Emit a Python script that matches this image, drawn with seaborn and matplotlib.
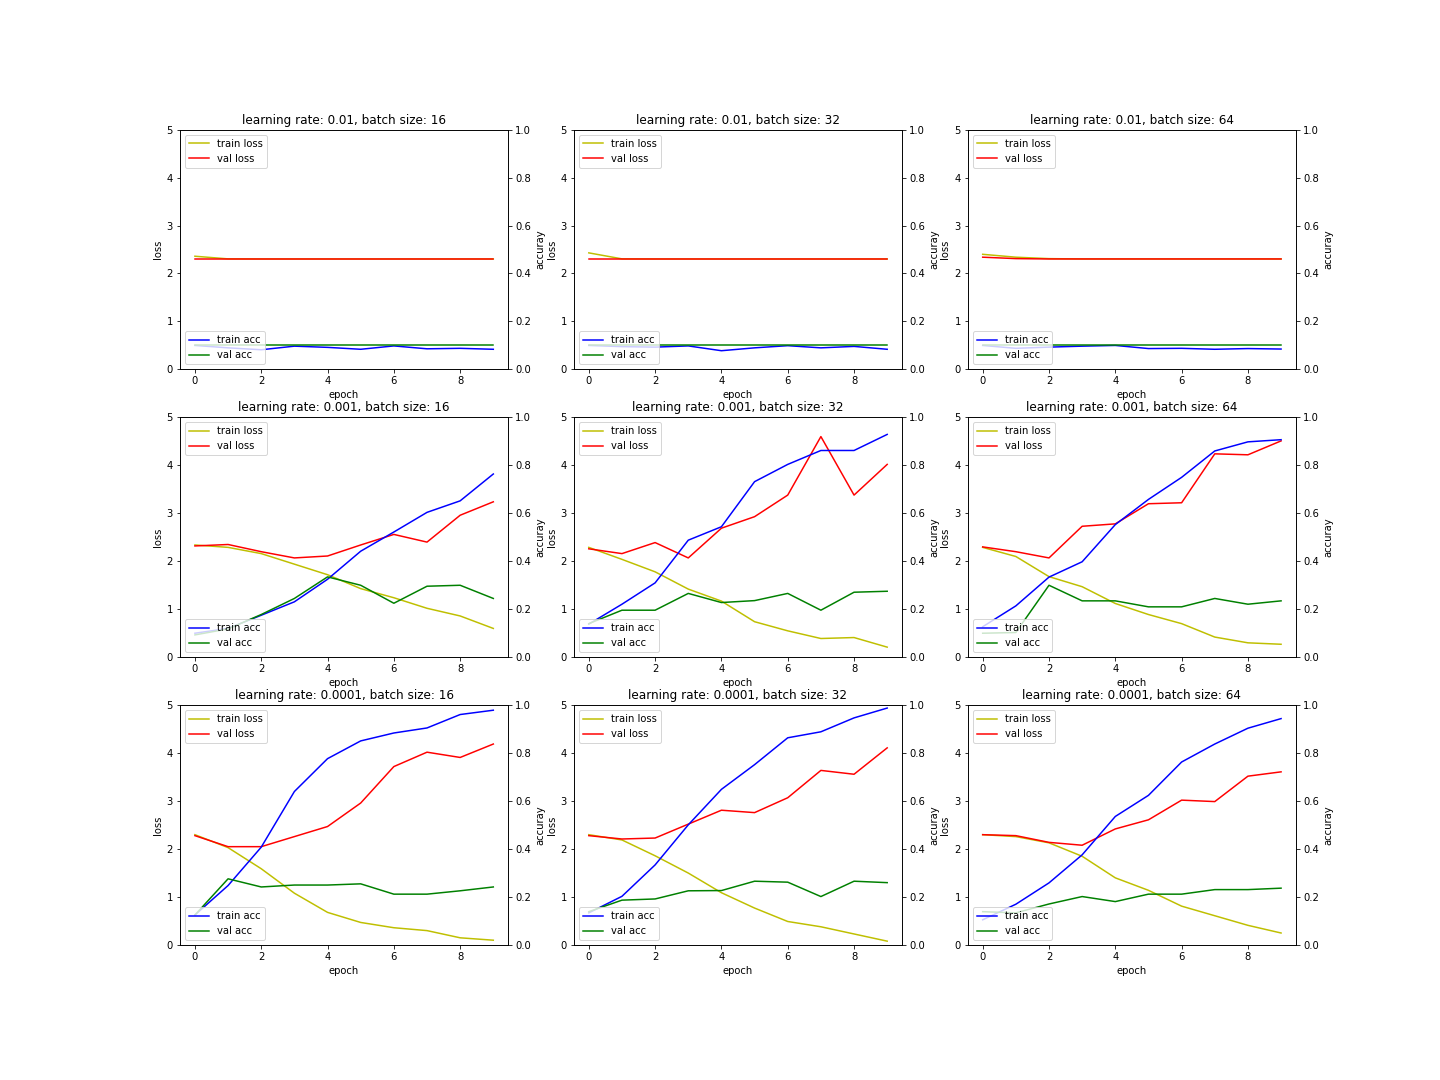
import numpy as np
import matplotlib
matplotlib.use("Agg")
import matplotlib.pyplot as plt
import seaborn as sns

learning_rates = ["0.01", "0.001", "0.0001"]
batch_sizes = [16, 32, 64]
epochs = list(range(10))

# lr 0.01
train_loss_01_16 = [2.36, 2.305, 2.303, 2.303, 2.303, 2.303, 2.303, 2.303, 2.303, 2.303]
val_loss_01_16 = [2.303, 2.303, 2.303, 2.303, 2.303, 2.303, 2.303, 2.303, 2.303, 2.303]
train_acc_01_16 = [0.100, 0.090, 0.082, 0.097, 0.092, 0.084, 0.098, 0.086, 0.088, 0.084]
val_acc_01_16 = [0.100] * 10

train_loss_01_32 = [2.43, 2.305, 2.303, 2.303, 2.303, 2.303, 2.303, 2.303, 2.303, 2.303]
val_loss_01_32 = [2.303, 2.303, 2.303, 2.303, 2.303, 2.303, 2.303, 2.303, 2.303, 2.303]
train_acc_01_32 = [0.100, 0.095, 0.093, 0.098, 0.078, 0.090, 0.099, 0.090, 0.096, 0.084]
val_acc_01_32 = [0.100] * 10

train_loss_01_64 = [2.40, 2.34, 2.31, 2.303, 2.303, 2.303, 2.303, 2.303, 2.303, 2.303]
val_loss_01_64 = [2.34, 2.31, 2.303, 2.303, 2.303, 2.303, 2.303, 2.303, 2.303, 2.303]
train_acc_01_64 = [0.100, 0.088, 0.093, 0.097, 0.100, 0.087, 0.088, 0.084, 0.087, 0.085]
val_acc_01_64 = [0.100] * 10

# lr 0.001
train_loss_001_16 = [2.34, 2.29, 2.16, 1.94, 1.72, 1.43, 1.24, 1.02, 0.86, 0.60]
val_loss_001_16 = [2.32, 2.35, 2.20, 2.07, 2.11, 2.34, 2.56, 2.40, 2.96, 3.24]
train_acc_001_16 = [0.100, 0.120, 0.175, 0.231, 0.325, 0.442, 0.522, 0.604, 0.652, 0.764]
val_acc_001_16 = [0.093, 0.118, 0.178, 0.245, 0.335, 0.300, 0.225, 0.296, 0.300, 0.245]

train_loss_001_32 = [2.29, 2.04, 1.78, 1.42, 1.17, 0.74, 0.55, 0.39, 0.41, 0.21]
val_loss_001_32 = [2.26, 2.16, 2.39, 2.07, 2.69, 2.93, 3.38, 4.60, 3.38, 4.02]
train_acc_001_32 = [0.138, 0.221, 0.310, 0.488, 0.544, 0.732, 0.804, 0.862, 0.862, 0.929]
val_acc_001_32 = [0.140, 0.196, 0.196, 0.266, 0.228, 0.236, 0.266, 0.196, 0.271, 0.275]

train_loss_001_64 = [2.29, 2.10, 1.68, 1.47, 1.12, 0.89, 0.70, 0.42, 0.30, 0.27]
val_loss_001_64 = [2.30, 2.20, 2.07, 2.73, 2.78, 3.20, 3.22, 4.24, 4.22, 4.51]
train_acc_001_64 = [0.127, 0.214, 0.334, 0.398, 0.553, 0.658, 0.750, 0.860, 0.898, 0.907]
val_acc_001_64 = [0.100, 0.103, 0.300, 0.235, 0.235, 0.210, 0.210, 0.245, 0.221, 0.235]

# lr 0.0001
train_loss_0001_16 = [2.30, 2.03, 1.59, 1.08, 0.68, 0.47, 0.36, 0.30, 0.15, 0.10]
val_loss_0001_16 = [2.28, 2.05, 2.05, 2.26, 2.47, 2.96, 3.72, 4.02, 3.91, 4.19]
train_acc_0001_16 = [0.125, 0.248, 0.408, 0.640, 0.777, 0.851, 0.884, 0.905, 0.961, 0.979]
val_acc_0001_16 = [0.125, 0.276, 0.242, 0.250, 0.250, 0.255, 0.212, 0.212, 0.226, 0.242]

train_loss_0001_32 = [2.30, 2.19, 1.86, 1.50, 1.09, 0.77, 0.49, 0.38, 0.23, 0.08]
val_loss_0001_32 = [2.28, 2.21, 2.23, 2.52, 2.81, 2.76, 3.07, 3.64, 3.56, 4.11]
train_acc_0001_32 = [0.134, 0.203, 0.334, 0.501, 0.649, 0.752, 0.864, 0.889, 0.947, 0.988]
val_acc_0001_32 = [0.139, 0.187, 0.192, 0.226, 0.227, 0.266, 0.262, 0.202, 0.266, 0.260]

train_loss_0001_64 = [2.30, 2.26, 2.13, 1.85, 1.40, 1.14, 0.81, 0.61, 0.41, 0.25]
val_loss_0001_64 = [2.30, 2.28, 2.14, 2.08, 2.42, 2.61, 3.02, 2.99, 3.52, 3.61]
train_acc_0001_64 = [0.105, 0.170, 0.259, 0.376, 0.536, 0.624, 0.763, 0.838, 0.904, 0.944]
val_acc_0001_64 = [0.139, 0.134, 0.171, 0.202, 0.181, 0.212, 0.212, 0.231, 0.231, 0.237]

panels = [
    [(train_loss_01_16, val_loss_01_16, train_acc_01_16, val_acc_01_16),
     (train_loss_01_32, val_loss_01_32, train_acc_01_32, val_acc_01_32),
     (train_loss_01_64, val_loss_01_64, train_acc_01_64, val_acc_01_64)],
    [(train_loss_001_16, val_loss_001_16, train_acc_001_16, val_acc_001_16),
     (train_loss_001_32, val_loss_001_32, train_acc_001_32, val_acc_001_32),
     (train_loss_001_64, val_loss_001_64, train_acc_001_64, val_acc_001_64)],
    [(train_loss_0001_16, val_loss_0001_16, train_acc_0001_16, val_acc_0001_16),
     (train_loss_0001_32, val_loss_0001_32, train_acc_0001_32, val_acc_0001_32),
     (train_loss_0001_64, val_loss_0001_64, train_acc_0001_64, val_acc_0001_64)],
]

plt.rcParams['font.family'] = ['DejaVu Sans']
fig, axes = plt.subplots(3, 3, figsize=(20, 15), dpi=72)
fig.subplots_adjust(left=0.125, right=0.9, top=0.88, bottom=0.125, wspace=0.2, hspace=0.2)

for i, lr in enumerate(learning_rates):
    for j, bs in enumerate(batch_sizes):
        ax = axes[i][j]
        tl, vl, ta, va = panels[i][j]
        sns.lineplot(x=epochs, y=tl, color='y', label='train loss', ax=ax)
        sns.lineplot(x=epochs, y=vl, color='r', label='val loss', ax=ax)
        ax.set_ylim(0, 5)
        ax.set_xlabel('epoch')
        ax.set_ylabel('loss')
        ax.set_title(f'learning rate: {lr}, batch size: {bs}')
        ax.legend(loc='upper left')
        ax2 = ax.twinx()
        sns.lineplot(x=epochs, y=ta, color='b', label='train acc', ax=ax2)
        sns.lineplot(x=epochs, y=va, color='g', label='val acc', ax=ax2)
        ax2.set_ylim(0, 1)
        ax2.set_ylabel('accuray')
        ax2.legend(loc='lower left')
        ax.set_xticks([0, 2, 4, 6, 8])

fig.savefig('out.png', dpi=72)
